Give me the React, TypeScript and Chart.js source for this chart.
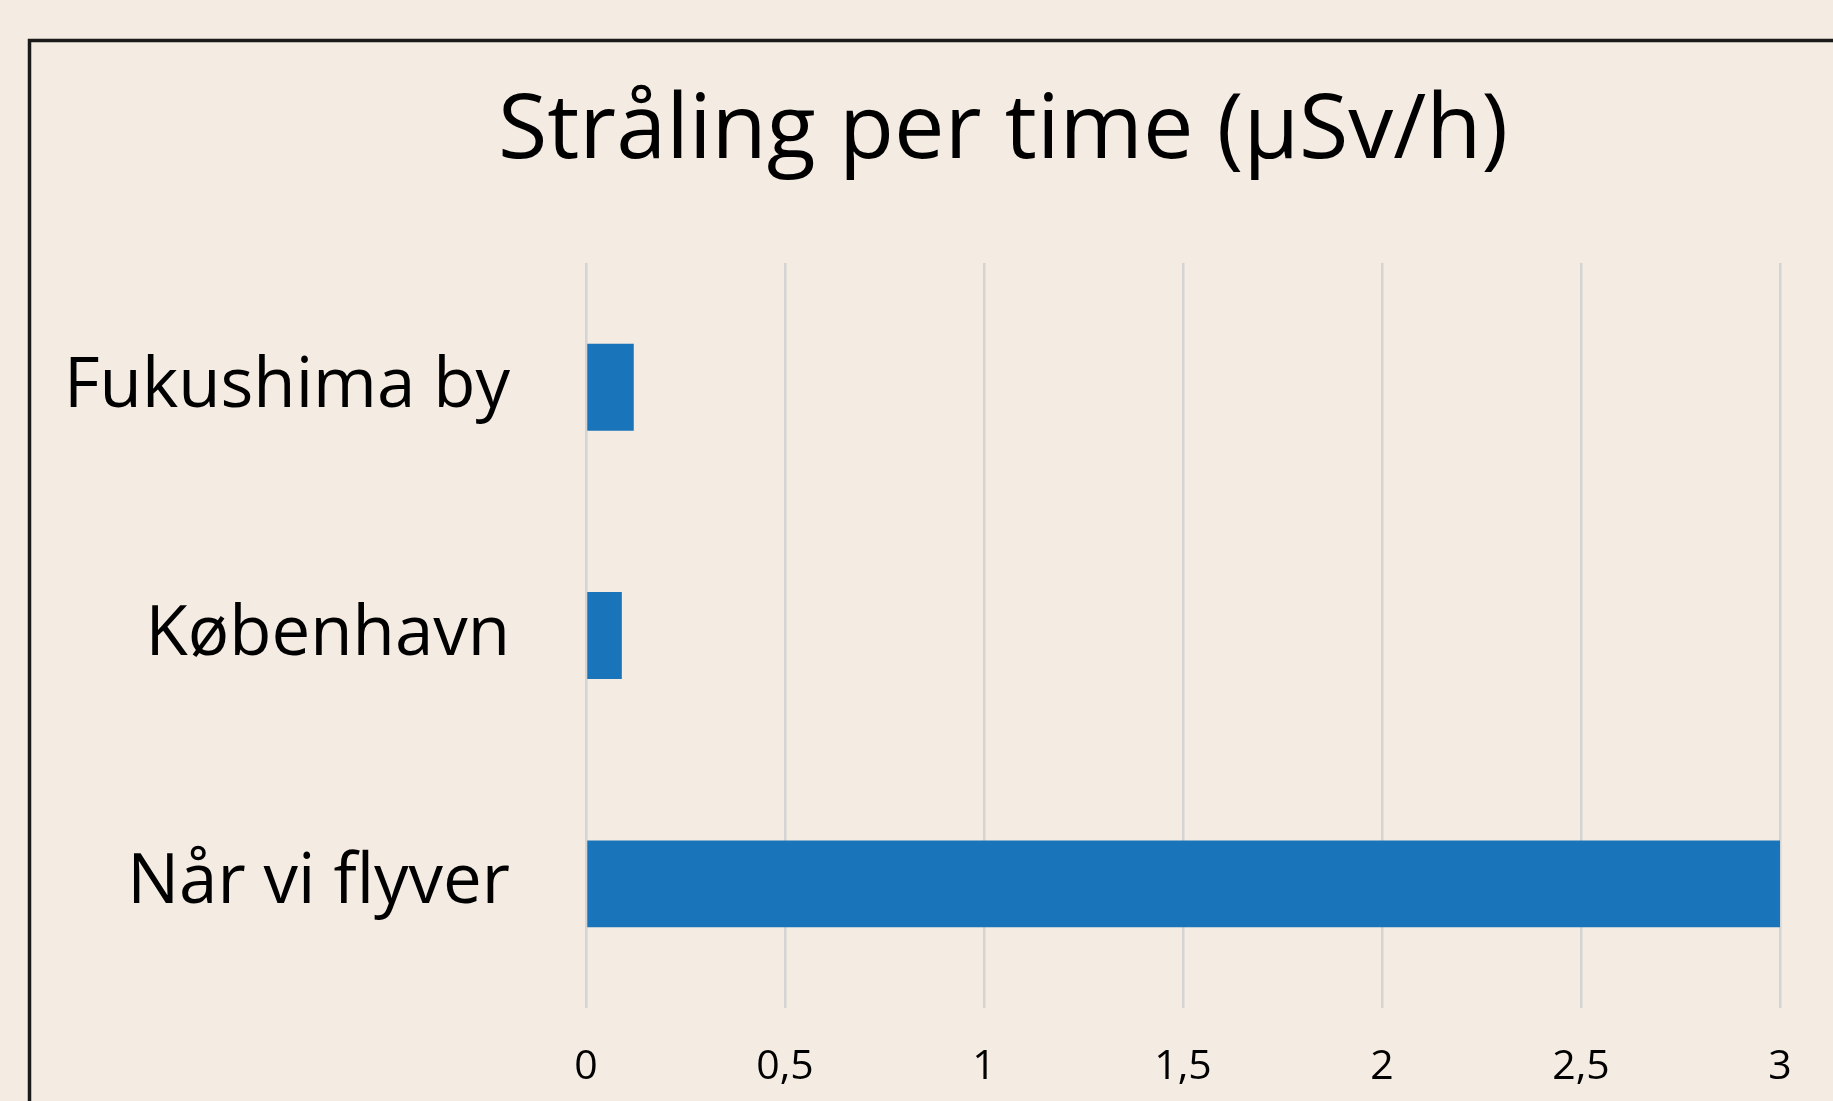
import React, { useEffect, useRef } from "react";
import { Chart, registerables } from "chart.js";

Chart.register(...registerables);

const TITLE = "Stråling per time (µSv/h)";
const categories = ["Fukushima by", "København", "Når vi flyver"];
const values = [0.12, 0.09, 3];
const xTicks = [0, 0.5, 1, 1.5, 2, 2.5, 3];

const BG = "#F4EBE2";
const BAR = "#1A74B9";
const GRID = "#D4D4D4";
const FONT = "'Open Sans', 'Noto Sans', sans-serif";

const framePlugin = {
  id: "frame",
  beforeDraw(chart: any) {
    const { ctx, width, height } = chart;
    ctx.save();
    ctx.fillStyle = BG;
    ctx.fillRect(0, 0, width, height);
    ctx.restore();
  },
  afterDraw(chart: any) {
    const { ctx, width, height } = chart;
    ctx.save();
    ctx.strokeStyle = "#1a1a1a";
    ctx.lineWidth = 3.5;
    ctx.beginPath();
    ctx.moveTo(29.5, height + 5);
    ctx.lineTo(29.5, 40.5);
    ctx.lineTo(width + 5, 40.5);
    ctx.stroke();
    // title
    ctx.fillStyle = "#000000";
    ctx.font = `500 90px ${FONT}`;
    ctx.textAlign = "center";
    ctx.textBaseline = "alphabetic";
    ctx.fillText(TITLE, 1003, 158);
    ctx.restore();
  },
};

export default function App() {
  const ref = useRef<HTMLCanvasElement | null>(null);

  useEffect(() => {
    document.body.style.margin = "0";
    document.body.style.background = BG;
    const canvas = ref.current;
    if (!canvas) return;
    const chart = new Chart(canvas, {
      type: "bar",
      data: {
        labels: categories,
        datasets: [
          {
            data: values,
            backgroundColor: BAR,
            borderWidth: 0,
            barPercentage: 0.35,
            categoryPercentage: 1,
          },
        ],
      },
      options: {
        indexAxis: "y",
        animation: false,
        responsive: false,
        devicePixelRatio: 1,
        layout: { padding: { left: 0, right: 53, top: 263, bottom: 0 } },
        plugins: {
          legend: { display: false },
          tooltip: { enabled: false },
          title: { display: false },
        },
        scales: {
          x: {
            type: "linear",
            min: 0,
            max: 3,
            afterBuildTicks: (scale: any) => {
              scale.ticks = xTicks.map((v) => ({ value: v }));
            },
            afterFit: (scale: any) => {
              scale.height = 93;
              scale.paddingLeft = 0;
              scale.paddingRight = 0;
            },
            grid: {
              color: GRID,
              lineWidth: 2.5,
              drawTicks: false,
            },
            border: { display: false },
            ticks: {
              color: "#000000",
              padding: 35,
              font: { family: FONT, size: 41, weight: "500", lineHeight: 1.2 },
              callback: (v: any) => String(v).replace(".", ","),
            },
          },
          y: {
            afterFit: (scale: any) => {
              scale.width = 586;
              scale.paddingTop = 0;
              scale.paddingBottom = 0;
            },
            grid: { display: false, drawTicks: false },
            border: { display: false },
            ticks: {
              color: "#000000",
              padding: 76,
              font: { family: FONT, size: 69, weight: "500", lineHeight: 1.2 },
            },
          },
        },
      },
      plugins: [framePlugin],
    });
    return () => chart.destroy();
  }, []);

  return (
    <div style={{ width: 1833, height: 1101, background: BG }}>
      <canvas ref={ref} width={1833} height={1101} style={{ display: "block" }} />
    </div>
  );
}
